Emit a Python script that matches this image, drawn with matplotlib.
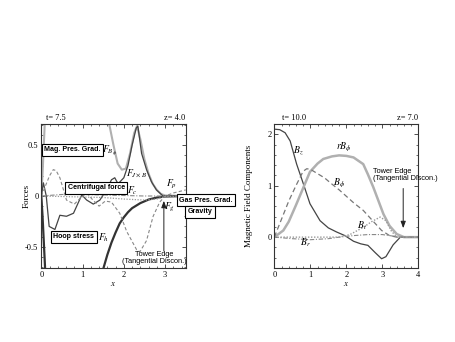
import numpy as np
import matplotlib
matplotlib.use("Agg")
import matplotlib.pyplot as plt
from matplotlib.ticker import MultipleLocator

plt.rcParams["font.family"] = ["Liberation Serif", "DejaVu Serif"]
plt.rcParams["mathtext.fontset"] = "stix"

# ---- left panel: forces (t=7.5, z=4.0) ----
# magnetic pressure gradient F_Bphi (two visible pieces, off-scale between)
fb_x = [0.0, 0.03, 0.06, 0.09, 0.12, 1.5, 1.6, 1.65, 1.75, 1.85, 1.95, 2.05, 2.15, 2.25, 2.32,
        2.4, 2.5, 2.6, 2.7, 2.8, 2.9, 3.0, 3.5]
fb_y = [0.0, 0.22, 0.5, 0.78, 1.2, 1.2, 0.8, 0.7, 0.5, 0.32, 0.26, 0.27, 0.42, 0.62, 0.69,
        0.56, 0.36, 0.22, 0.12, 0.06, 0.02, 0.005, 0.0]
# hoop stress F_h
fh_x = [0.0, 0.03, 0.06, 0.09, 0.12, 1.45, 1.5, 1.6, 1.7, 1.8, 1.9, 2.0, 2.1, 2.2, 2.4, 2.6,
        2.8, 3.0, 3.5]
fh_y = [0.0, -0.2, -0.45, -0.7, -1.2, -1.2, -0.72, -0.58, -0.46, -0.36, -0.27, -0.21, -0.16,
        -0.12, -0.07, -0.035, -0.015, -0.005, 0.0]
# total Lorentz force F_JxB
fj_x = [0.0, 0.05, 0.12, 0.19, 0.33, 0.45, 0.61, 0.78, 0.98, 1.1, 1.26, 1.42, 1.58, 1.7,
        1.78, 1.86, 2.0, 2.1, 2.2, 2.3, 2.34, 2.43, 2.55, 2.67, 2.79, 2.95, 3.5]
fj_y = [0.0, 0.13, 0.0, -0.3, -0.33, -0.19, -0.2, -0.17, 0.01, -0.04, -0.08, -0.04, 0.06,
        0.16, 0.18, 0.12, 0.18, 0.3, 0.5, 0.67, 0.69, 0.42, 0.26, 0.14, 0.06, 0.0, 0.0]
# gas pressure gradient F_p
fp_x = [0.0, 0.1, 0.2, 0.29, 0.36, 0.45, 0.61, 0.8, 0.95, 1.1, 1.25, 1.4, 1.55, 1.7, 1.9,
        2.07, 2.31, 2.39, 2.55, 2.71, 2.87, 3.0, 3.2, 3.5]
fp_y = [0.0, 0.1, 0.2, 0.26, 0.25, 0.18, -0.04, -0.08, -0.02, 0.03, -0.04, -0.1, -0.05,
        -0.06, -0.17, -0.35, -0.53, -0.55, -0.44, -0.2, -0.06, 0.0, 0.03, 0.06]
# centrifugal force F_c
fc_x = [0.0, 0.5, 1.0, 1.5, 2.0, 2.5, 3.0, 3.5]
fc_y = [0.0, 0.015, 0.015, 0.01, 0.005, 0.0, 0.0, 0.0]
# gravity F_g
fg_x = [0.0, 0.5, 1.0, 1.5, 2.0, 2.5, 2.8, 3.0, 3.5]
fg_y = [0.0, -0.005, -0.01, -0.015, -0.03, -0.04, -0.03, -0.005, 0.0]

# ---- right panel: magnetic field (t=10.0, z=7.0) ----
bz_x = [0.0, 0.15, 0.3, 0.44, 0.62, 0.81, 0.99, 1.27, 1.5, 1.73, 1.96, 2.2, 2.4, 2.6, 2.8,
        2.98, 3.1, 3.3, 3.5, 4.0]
bz_y = [2.1, 2.09, 2.03, 1.87, 1.42, 1.03, 0.65, 0.32, 0.18, 0.1, 0.03, -0.08, -0.13, -0.16,
        -0.3, -0.42, -0.38, -0.15, 0.0, 0.0]
rbp_x = [0.0, 0.25, 0.4, 0.6, 0.81, 0.99, 1.2, 1.36, 1.6, 1.8, 2.0, 2.2, 2.47, 2.6, 2.75,
         3.03, 3.2, 3.4, 3.6, 4.0]
rbp_y = [0.0, 0.13, 0.3, 0.62, 0.97, 1.27, 1.43, 1.52, 1.57, 1.59, 1.58, 1.55, 1.42, 1.22,
         0.97, 0.45, 0.22, 0.06, 0.0, 0.0]
bp_x = [0.0, 0.2, 0.4, 0.6, 0.8, 0.9, 1.0, 1.4, 1.55, 1.8, 2.2, 2.47, 2.6, 2.98, 3.2, 3.4, 4.0]
bp_y = [0.0, 0.35, 0.7, 1.0, 1.28, 1.33, 1.32, 1.15, 1.06, 0.92, 0.67, 0.52, 0.42, 0.13,
        0.03, 0.0, 0.0]
br_x = [0.0, 0.5, 1.0, 1.5, 1.8, 2.2, 2.6, 3.0, 3.3, 3.5, 4.0]
br_y = [0.0, -0.03, -0.05, -0.03, 0.0, 0.03, 0.05, 0.05, 0.02, 0.0, 0.0]
bt_x = [0.0, 1.8, 2.1, 2.47, 2.7, 2.94, 3.1, 3.25, 3.4, 4.0]
bt_y = [0.0, 0.0, 0.05, 0.19, 0.3, 0.39, 0.32, 0.12, 0.0, 0.0]

fig = plt.figure(figsize=(4.55, 3.42), dpi=100)
ax1 = fig.add_axes([0.0908, 0.2164, 0.3174, 0.4210])
ax2 = fig.add_axes([0.6029, 0.2164, 0.3165, 0.4210])

box = dict(boxstyle="square,pad=0.35", fc="white", ec="black", lw=0.8)
lab_kw = dict(fontsize=5.1, fontweight="bold", family="Liberation Sans", bbox=box,
              ha="center", va="center", zorder=5)

ax1.plot(fb_x, fb_y, color="#b0b0b0", lw=1.5)
ax1.plot(fh_x, fh_y, color="#333333", lw=1.6)
ax1.plot(fj_x, fj_y, color="#444444", lw=0.9)
ax1.plot(fp_x, fp_y, color="#888888", lw=0.8, ls=(0, (3, 2)))
ax1.plot(fc_x, fc_y, color="#888888", lw=0.8, ls=(0, (4, 1.5, 1, 1.5)))
ax1.plot(fg_x, fg_y, color="#999999", lw=0.9, ls=(0, (1, 1.2)))

ax1.text(0.76, 0.455, "Mag. Pres. Grad.", **lab_kw)
ax1.text(1.33, 0.08, "Centrifugal force", **lab_kw)
ax1.text(0.79, -0.40, "Hoop stress", **lab_kw)
ax1.text(1.14, 0.47, "Gas Pres. Grad.", transform=ax1.transAxes, clip_on=False, **lab_kw)
ax1.text(1.10, 0.39, "Gravity", transform=ax1.transAxes, clip_on=False, **lab_kw)
ax1.text(1.65, 0.45, r"$F_{B_\phi}$", fontsize=7, ha="center", va="center")
ax1.text(2.32, 0.22, r"$F_{J\times B}$", fontsize=7, ha="center", va="center")
ax1.text(2.2, 0.055, r"$F_c$", fontsize=7, ha="center", va="center")
ax1.text(1.5, -0.41, r"$F_h$", fontsize=7, ha="center", va="center")
ax1.text(3.16, 0.115, r"$F_p$", fontsize=7, ha="center", va="center")
ax1.text(3.12, -0.115, r"$F_g$", fontsize=7, ha="center", va="center")
ax1.annotate("", xy=(2.97, -0.02), xytext=(2.97, -0.57),
             arrowprops=dict(arrowstyle="-|>,head_length=0.4,head_width=0.15", lw=0.7,
                             color="#222222"))
ax1.text(2.73, -0.615, "Tower Edge\n(Tangential Discon.)", family="Liberation Sans",
         fontsize=5.3, ha="center", va="center", linespacing=0.95)

ax1.set_xlim(0, 3.5)
ax1.set_ylim(-0.71, 0.71)
ax1.xaxis.set_major_locator(MultipleLocator(1))
ax1.xaxis.set_minor_locator(MultipleLocator(0.2))
ax1.yaxis.set_major_locator(MultipleLocator(0.5))
ax1.yaxis.set_minor_locator(MultipleLocator(0.1))
ax1.set_yticks([-0.5, 0, 0.5])
ax1.set_yticklabels(["-0.5", "0", "0.5"])
ax1.set_xlabel("$x$", fontsize=6.5, labelpad=1)
ax1.set_ylabel("Forces", fontsize=6.5)
ax1.yaxis.set_label_coords(-0.075, 0.5)
ax1.text(0.03, 1.015, "t= 7.5", transform=ax1.transAxes, fontsize=6, ha="left", va="bottom")
ax1.text(1.0, 1.015, "z= 4.0", transform=ax1.transAxes, fontsize=6, ha="right", va="bottom")

ax2.plot(bz_x, bz_y, color="#444444", lw=0.9)
ax2.plot(rbp_x, rbp_y, color="#b0b0b0", lw=1.8)
ax2.plot(bp_x, bp_y, color="#777777", lw=0.9, ls=(0, (4, 2.5)))
ax2.plot(br_x, br_y, color="#888888", lw=0.8, ls=(0, (4, 1.5, 1, 1.5)))
ax2.plot(bt_x, bt_y, color="#999999", lw=1.0, ls=(0, (1, 1.2)))

ax2.text(0.67, 1.68, r"$B_z$", fontsize=7, ha="center", va="center")
ax2.text(1.92, 1.74, r"$rB_\phi$", fontsize=7, ha="center", va="center")
ax2.text(1.8, 1.05, r"$B_\phi$", fontsize=7, ha="center", va="center")
ax2.text(0.85, -0.1, r"$B_r$", fontsize=7, ha="center", va="center")
ax2.text(2.43, 0.23, r"$B_t$", fontsize=7, ha="center", va="center")
ax2.annotate("", xy=(3.58, 0.12), xytext=(3.58, 1.0),
             arrowprops=dict(arrowstyle="-|>,head_length=0.4,head_width=0.15", lw=0.7,
                             color="#222222"))
ax2.text(2.75, 1.21, "Tower Edge\n(Tangential Discon.)", family="Liberation Sans",
         fontsize=5.3, ha="left", va="center", linespacing=1.0, clip_on=False)

ax2.set_xlim(0, 4)
ax2.set_ylim(-0.6, 2.2)
ax2.xaxis.set_major_locator(MultipleLocator(1))
ax2.xaxis.set_minor_locator(MultipleLocator(0.2))
ax2.yaxis.set_major_locator(MultipleLocator(1))
ax2.yaxis.set_minor_locator(MultipleLocator(0.2))
ax2.set_xlabel("$x$", fontsize=6.5, labelpad=1)
ax2.set_ylabel("Magnetic Field Components", fontsize=6.5)
ax2.yaxis.set_label_coords(-0.148, 0.5)
ax2.text(0.05, 1.015, "t= 10.0", transform=ax2.transAxes, fontsize=6, ha="left", va="bottom")
ax2.text(1.0, 1.015, "z= 7.0", transform=ax2.transAxes, fontsize=6, ha="right", va="bottom")

for ax in (ax1, ax2):
    ax.tick_params(which="both", direction="in", top=True, right=True, labelsize=6,
                   color="#333333", pad=2)
    ax.tick_params(which="major", length=3, width=0.6)
    ax.tick_params(which="minor", length=1.6, width=0.5)
    for sp in ax.spines.values():
        sp.set_linewidth(0.8)
        sp.set_color("#333333")

fig.savefig("out.png", dpi=100)
